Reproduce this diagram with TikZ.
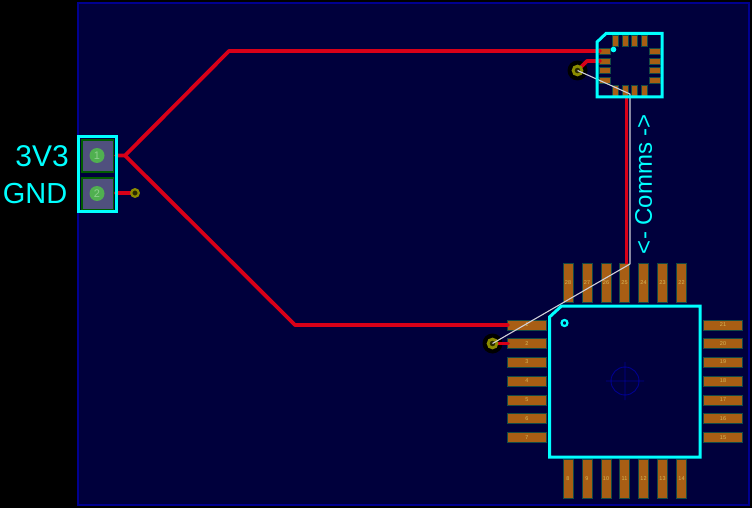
\documentclass[tikz,border=0pt]{standalone}
\usepackage{fontspec}
\setmainfont{Liberation Sans}
\definecolor{board}{HTML}{00003C}
\definecolor{edgeblue}{HTML}{000090}
\definecolor{cy}{HTML}{00FFFF}
\definecolor{tr}{HTML}{D80018}
\definecolor{padc}{HTML}{A85E14}
\definecolor{padedge}{HTML}{144A44}
\definecolor{viaol}{HTML}{8C8C00}
\definecolor{wirew}{HTML}{D0D0D8}
\definecolor{lbl}{HTML}{D8B858}
\definecolor{slatep}{HTML}{50507E}
\definecolor{holeg}{HTML}{50B050}
\definecolor{holet}{HTML}{8FD08F}
\definecolor{frameg}{HTML}{005C00}
\tikzset{
 x=1pt,y=-1pt,
 trace/.style={draw=tr,line width=3.8pt,line join=round,line cap=round},
 silk/.style={draw=cy,line width=3pt,line join=miter},
 ratline/.style={draw=wirew,line width=1.1pt,line join=round},
 padbox/.style={fill=padc,draw=padedge,line width=0.9pt},
 padnum/.style={text=lbl,font=\fontsize{5.5}{6}\selectfont,inner sep=0pt},
 big/.style={text=cy,inner sep=0pt},
}
\begin{document}
\begin{tikzpicture}
\useasboundingbox (0,0) rectangle (752,508);
\fill[black] (0,0) rectangle (752,508);
\fill[board,draw=edgeblue,line width=1.6pt] (78,3) rectangle (749,505);
% target
\draw[edgeblue,line width=0.9pt] (625,381) circle (14) (606,381) -- (644,381) (625,362) -- (625,400);
% TQFP pads
\foreach \yy/\n in {325/1,343.5/2,362/3,381/4,400/5,418.5/6,437.5/7}{
  \draw[padbox] (507.5,\yy-5) rectangle (546.5,\yy+5);
  \node[padnum] (pl\n) at (527,\yy) {\n};
}
\foreach \yy/\n in {437.5/15,418.5/16,400/17,381/18,362/19,343.5/20,325/21}{
  \draw[padbox] (703.5,\yy-5) rectangle (742.5,\yy+5);
  \node[padnum] (pr\n) at (723,\yy) {\n};
}
\foreach \xx/\n in {568/8,587/9,606/10,624.5/11,643.5/12,662.5/13,681.5/14}{
  \draw[padbox] (\xx-5,459.5) rectangle (\xx+5,498.5);
  \node[padnum] (pb\n) at (\xx,479) {\n};
}
\foreach \xx/\n in {568/28,587/27,606/26,624.5/25,643.5/24,662.5/23,681.5/22}{
  \draw[padbox] (\xx-5,263.5) rectangle (\xx+5,302.5);
  \node[padnum] (pt\n) at (\xx,283) {\n};
}
% QFN pads
\foreach \yy in {51,61,70.5,80}{
  \draw[padbox] (599.5,\yy-3) rectangle (610.5,\yy+3);
  \draw[padbox] (649.5,\yy-3) rectangle (660.5,\yy+3);
}
\foreach \xx in {615,625,634.5,644}{
  \draw[padbox] (\xx-3,35) rectangle (\xx+3,46);
  \draw[padbox] (\xx-3,85) rectangle (\xx+3,96);
}
% connector pads
\fill[frameg] (81,139) rectangle (114,173);
\fill[frameg] (81,177) rectangle (114,210);
\fill[slatep] (82.5,141) rectangle (112.5,171);
\fill[slatep] (82.5,179) rectangle (112.5,208.5);
\fill[holeg] (97,155.5) circle (7.5);
\fill[holeg] (97,193.5) circle (7.5);
\node[text=holet,font=\fontsize{11}{12}\selectfont,inner sep=0pt] (n1) at (97,155.5) {1};
\node[text=holet,font=\fontsize{11}{12}\selectfont,inner sep=0pt] (n2) at (97,193.5) {2};
% coordinates
\coordinate (vA) at (577.5,70.5);
\coordinate (vB) at (492.5,343.5);
\coordinate (vC) at (135,193);
% vias black
\fill[black] (vA) circle (10);
\fill[black] (vB) circle (10);
% traces
\draw[trace] (116,155.5) -- (125,155.5) -- (229,51) -- (600,51);
\draw[trace] (125,155.5) -- (295,325) -- (508,325);
\draw[trace] (116,193) -- (vC);
\draw[trace] (vA) -- (587,61) -- (600,61);
\draw[trace] (vB) -- (508,343.5);
\draw[trace,line cap=butt] (626.5,97) -- (626.5,264);
% vias
\draw[viaol,line width=2.8pt,fill=black!70!viaol] (vA) circle (4.4);
\draw[viaol,line width=2.8pt,fill=black!70!viaol] (vB) circle (4.4);
\draw[viaol,line width=2.2pt,fill=black!70!viaol] (vC) circle (3.8);
% ratlines
\draw[ratline] (vA) -- (630,94) -- (630,264) -- (vB);
% silk
\draw[silk] (597,42) -- (606,33.5) -- (662,33.5) -- (662,97) -- (597,97) -- cycle;
\fill[cy] (613.5,49.5) circle (2.8);
\draw[silk] (549.5,317) -- (561.5,306) -- (700,306) -- (700,457) -- (549.5,457) -- cycle;
\draw[cy,line width=2.2pt] (564.5,323) circle (3);
\draw[silk] (78,136.5) rectangle (116,211.5);
% text
\node[big,anchor=base east,font=\fontsize{30}{31}\selectfont] (t3) at (69,166.5) {3V3};
\node[big,anchor=base east,font=\fontsize{29}{30}\selectfont] (tg) at (67.5,203.5) {GND};
\node[big,rotate=90,font=\fontsize{24}{25}\selectfont] (tc) at (643.5,184) {<- Comms ->};
\end{tikzpicture}
\end{document}
